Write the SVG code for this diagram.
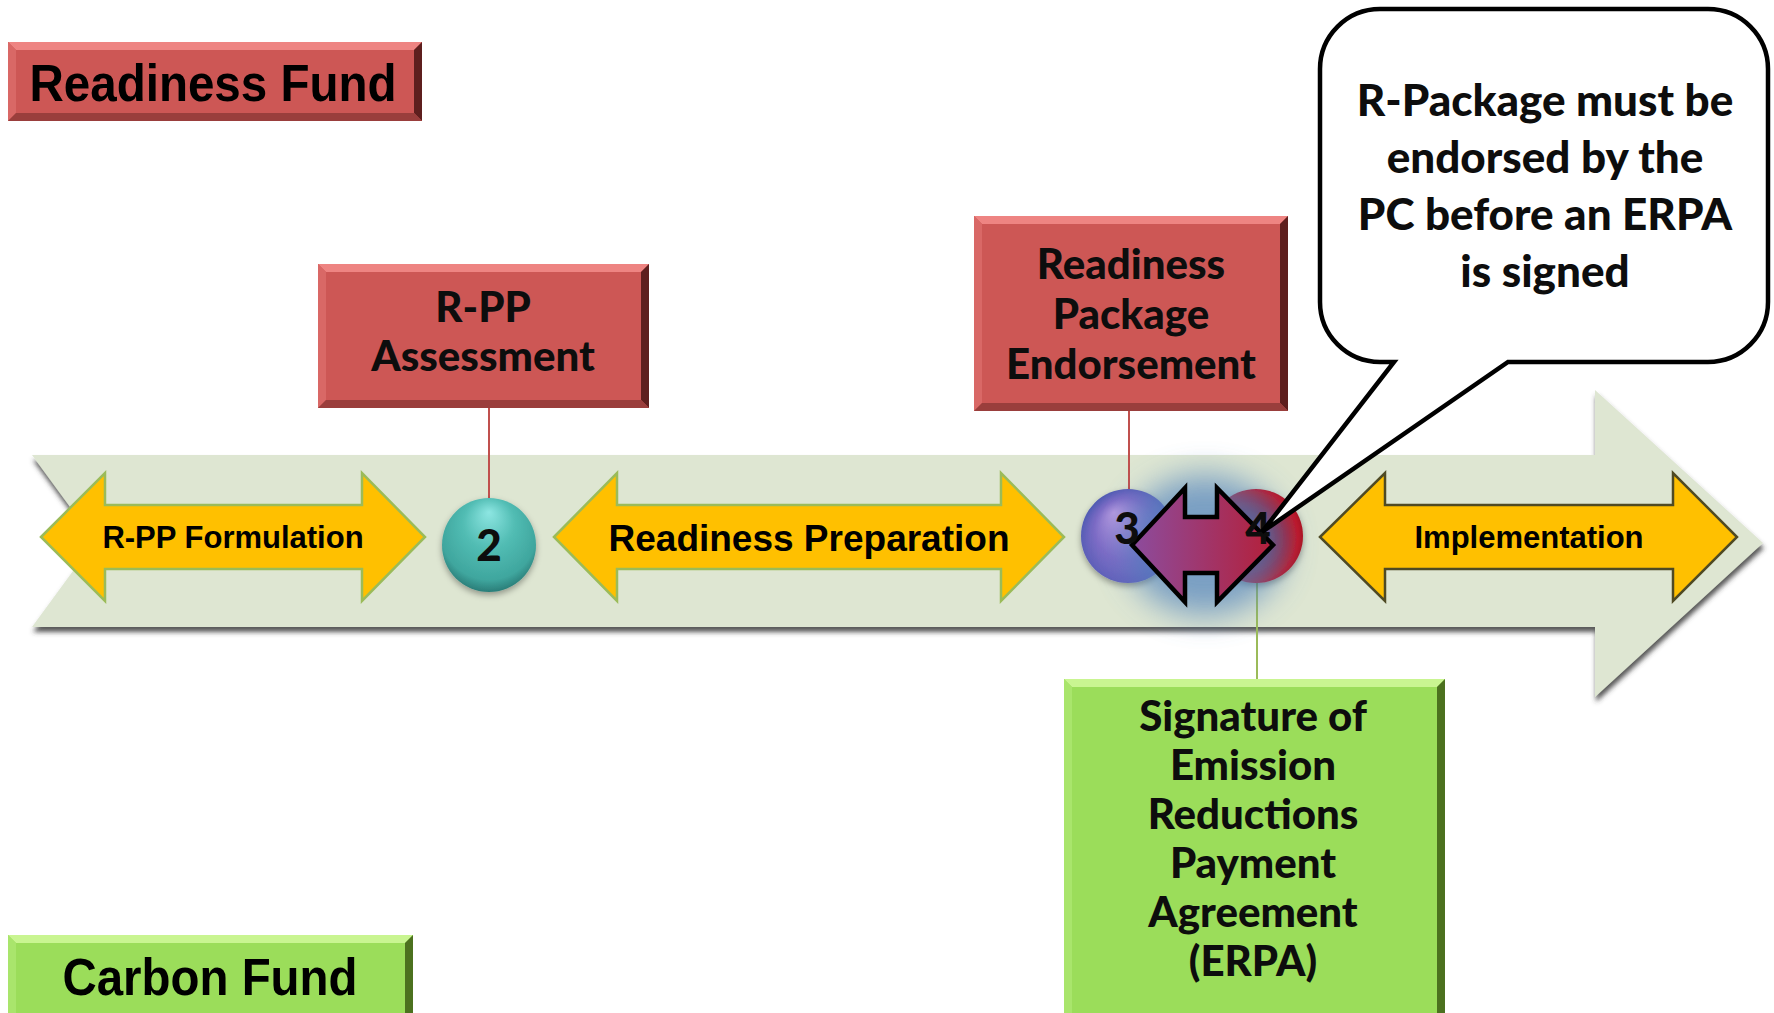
<svg xmlns="http://www.w3.org/2000/svg" width="1774" height="1013" viewBox="0 0 1774 1013">
<defs>
<style>
.arial{font-family:"Liberation Sans",Arial,sans-serif;font-weight:bold;fill:#000}
.cal{font-family:Lato,"Open Sans",sans-serif;font-weight:900;fill:#0d0d0d;text-anchor:middle}
.yarrow{fill:#FFC000;stroke:#9BBB59;stroke-width:2.5}
.conn{stroke-width:2;fill:none}
</style>
<filter id="bandShadow" x="-5%" y="-20%" width="110%" height="140%">
<feDropShadow dx="1" dy="5" stdDeviation="2.5" flood-color="#3a3a3a" flood-opacity="0.85"/>
</filter>
<filter id="ballShadow" x="-30%" y="-30%" width="160%" height="160%">
<feDropShadow dx="0" dy="3" stdDeviation="3" flood-color="#000" flood-opacity="0.35"/>
</filter>
<filter id="glow" x="-50%" y="-50%" width="200%" height="200%">
<feGaussianBlur stdDeviation="16"/>
</filter>
<radialGradient id="teal" cx="50%" cy="40%" r="60%" fx="50%" fy="15%">
<stop offset="0" stop-color="#8DE6E2"/>
<stop offset="0.45" stop-color="#52BDB4"/>
<stop offset="0.85" stop-color="#3FA69E"/>
<stop offset="1" stop-color="#2A7D78"/>
</radialGradient>
<radialGradient id="purple" cx="60%" cy="60%" r="65%" fx="35%" fy="25%">
<stop offset="0" stop-color="#B79AE0"/>
<stop offset="0.5" stop-color="#7E6CC6"/>
<stop offset="1" stop-color="#4A58B0"/>
</radialGradient>
<radialGradient id="red" cx="45%" cy="50%" r="60%" fx="35%" fy="55%">
<stop offset="0" stop-color="#5B3A7A"/>
<stop offset="0.5" stop-color="#8E1F3A"/>
<stop offset="0.85" stop-color="#C8101E"/>
<stop offset="1" stop-color="#9A0A14"/>
</radialGradient>
<linearGradient id="dbl" x1="0" y1="0" x2="1" y2="0">
<stop offset="0" stop-color="#8C4C9E"/>
<stop offset="1" stop-color="#B4203A"/>
</linearGradient>
</defs>

<rect width="1774" height="1013" fill="#fff"/>

<!-- timeline band -->
<g id="band">
<path d="M32,455 L1595,455 L1595,390 L1763,543 L1595,697 L1595,627 L32,627 L95,541 Z" fill="#DEE6D2" filter="url(#bandShadow)"/>
</g>

<!-- connectors -->
<g id="connectors">
<line class="conn" x1="489" y1="407" x2="489" y2="498" stroke="#C0504D"/>
<line class="conn" x1="1129" y1="411" x2="1129" y2="490" stroke="#C0504D"/>
<line class="conn" x1="1257" y1="583" x2="1257" y2="680" stroke="#9BBB59"/>
</g>

<!-- Readiness Fund -->
<g id="readiness-fund">
<rect x="8" y="42" width="414" height="79" fill="#CD5755"/>
<polygon points="8,42 422,42 414,50 16,50" fill="#EE8482"/>
<polygon points="8,42 16,50 16,113 8,121" fill="#D96866"/>
<polygon points="422,42 422,121 414,113 414,50" fill="#5E1F1E"/>
<polygon points="8,121 16,113 414,113 422,121" fill="#9A3E3C"/>
<text class="arial" x="213" y="101" font-size="52" text-anchor="middle" textLength="367" lengthAdjust="spacingAndGlyphs">Readiness Fund</text>
</g>

<!-- Carbon Fund -->
<g id="carbon-fund">
<rect x="8" y="935" width="405" height="78" fill="#9BDD5A"/>
<polygon points="8,935 413,935 405,943 16,943" fill="#C9F591"/>
<polygon points="8,935 16,943 16,1013 8,1013" fill="#A9E56C"/>
<polygon points="413,935 413,1013 405,1013 405,943" fill="#4C711F"/>
<text class="arial" x="210" y="995" font-size="52" text-anchor="middle" textLength="295" lengthAdjust="spacingAndGlyphs">Carbon Fund</text>
</g>

<!-- R-PP Assessment -->
<g id="rpp-assessment">
<rect x="318" y="264" width="331" height="144" fill="#CD5755"/>
<polygon points="318,264 649,264 641,272 326,272" fill="#EE8482"/>
<polygon points="318,264 326,272 326,400 318,408" fill="#D96866"/>
<polygon points="649,264 649,408 641,400 641,272" fill="#5E1F1E"/>
<polygon points="318,408 326,400 641,400 649,408" fill="#9A3E3C"/>
<text class="cal" x="483" y="322" font-size="42">R-PP</text>
<text class="cal" x="483" y="371" font-size="42">Assessment</text>
</g>

<!-- Readiness Package Endorsement -->
<g id="rp-endorsement">
<rect x="974" y="216" width="314" height="195" fill="#CD5755"/>
<polygon points="974,216 1288,216 1280,224 982,224" fill="#EE8482"/>
<polygon points="974,216 982,224 982,403 974,411" fill="#D96866"/>
<polygon points="1288,216 1288,411 1280,403 1280,224" fill="#5E1F1E"/>
<polygon points="974,411 982,403 1280,403 1288,411" fill="#9A3E3C"/>
<text class="cal" x="1131" y="279" font-size="42">Readiness</text>
<text class="cal" x="1131" y="329" font-size="42">Package</text>
<text class="cal" x="1131" y="379" font-size="42">Endorsement</text>
</g>

<!-- R-PP Formulation -->
<g id="rpp-formulation">
<polygon class="yarrow" points="41,537 105,473 105,505 362,505 362,473 425,537 362,601 362,569 105,569 105,601"/>
<text class="arial" x="233" y="548" font-size="31" text-anchor="middle">R-PP Formulation</text>
</g>

<!-- Milestone 2 -->
<g id="milestone-2">
<circle cx="489" cy="545" r="47" fill="url(#teal)" filter="url(#ballShadow)"/>
<text class="cal" x="489" y="561" font-size="44">2</text>
</g>

<!-- Readiness Preparation -->
<g id="readiness-preparation">
<polygon class="yarrow" points="554,537 617,473 617,505 1001,505 1001,473 1064,537 1001,601 1001,569 617,569 617,601"/>
<text class="arial" x="809" y="551" font-size="37" text-anchor="middle">Readiness Preparation</text>
</g>

<!-- Implementation -->
<g id="implementation">
<polygon points="1320,537 1385,473 1385,505 1673,505 1673,473 1737,537 1673,601 1673,569 1385,569 1385,601" fill="#FFC000" stroke="#4F4A24" stroke-width="2.5"/>
<text class="arial" x="1529" y="548" font-size="31" text-anchor="middle">Implementation</text>
</g>

<!-- Milestones 3 and 4 -->
<g id="milestone-3">
<circle cx="1128" cy="536" r="47" fill="url(#purple)" filter="url(#ballShadow)"/>
</g>
<g id="milestone-4">
<circle cx="1256" cy="536" r="47" fill="url(#red)" filter="url(#ballShadow)"/>
</g>
<g id="link-3-4">
<ellipse cx="1205" cy="545" rx="80" ry="70" fill="#4F81BD" opacity="0.7" filter="url(#glow)"/>
<polygon points="1132,545 1185,488 1185,517 1217,517 1217,488 1273,545 1217,602 1217,573 1185,573 1185,602" fill="url(#dbl)" stroke="#000" stroke-width="4.5" stroke-linejoin="miter"/>
<text class="cal" x="1127" y="544" font-size="44">3</text>
<text class="cal" x="1258" y="544" font-size="44">4</text>
</g>

<!-- ERPA -->
<g id="erpa">
<rect x="1064" y="679" width="381" height="334" fill="#9BDD5A"/>
<polygon points="1064,679 1445,679 1437,687 1072,687" fill="#C9F591"/>
<polygon points="1064,679 1072,687 1072,1013 1064,1013" fill="#A9E56C"/>
<polygon points="1445,679 1445,1013 1437,1013 1437,687" fill="#4C711F"/>
<text class="cal" x="1253" y="731" font-size="42">Signature of</text>
<text class="cal" x="1253" y="780" font-size="42">Emission</text>
<text class="cal" x="1253" y="829" font-size="42">Reductions</text>
<text class="cal" x="1253" y="878" font-size="42">Payment</text>
<text class="cal" x="1253" y="927" font-size="42">Agreement</text>
<text class="cal" x="1253" y="976" font-size="42">(ERPA)</text>
</g>

<!-- Callout -->
<g id="callout">
<path d="M1380,9 H1708 A60,60 0 0 1 1768,69 V302 A60,60 0 0 1 1708,362 H1508 L1262,532 L1394,362 H1380 A60,60 0 0 1 1320,302 V69 A60,60 0 0 1 1380,9 Z" fill="#fff" stroke="#000" stroke-width="4.5" stroke-linejoin="miter"/>
<text class="cal" x="1545" y="116" font-size="44">R-Package must be</text>
<text class="cal" x="1545" y="173" font-size="44">endorsed by the</text>
<text class="cal" x="1545" y="230" font-size="44">PC before an ERPA</text>
<text class="cal" x="1545" y="287" font-size="44">is signed</text>
</g>
</svg>
